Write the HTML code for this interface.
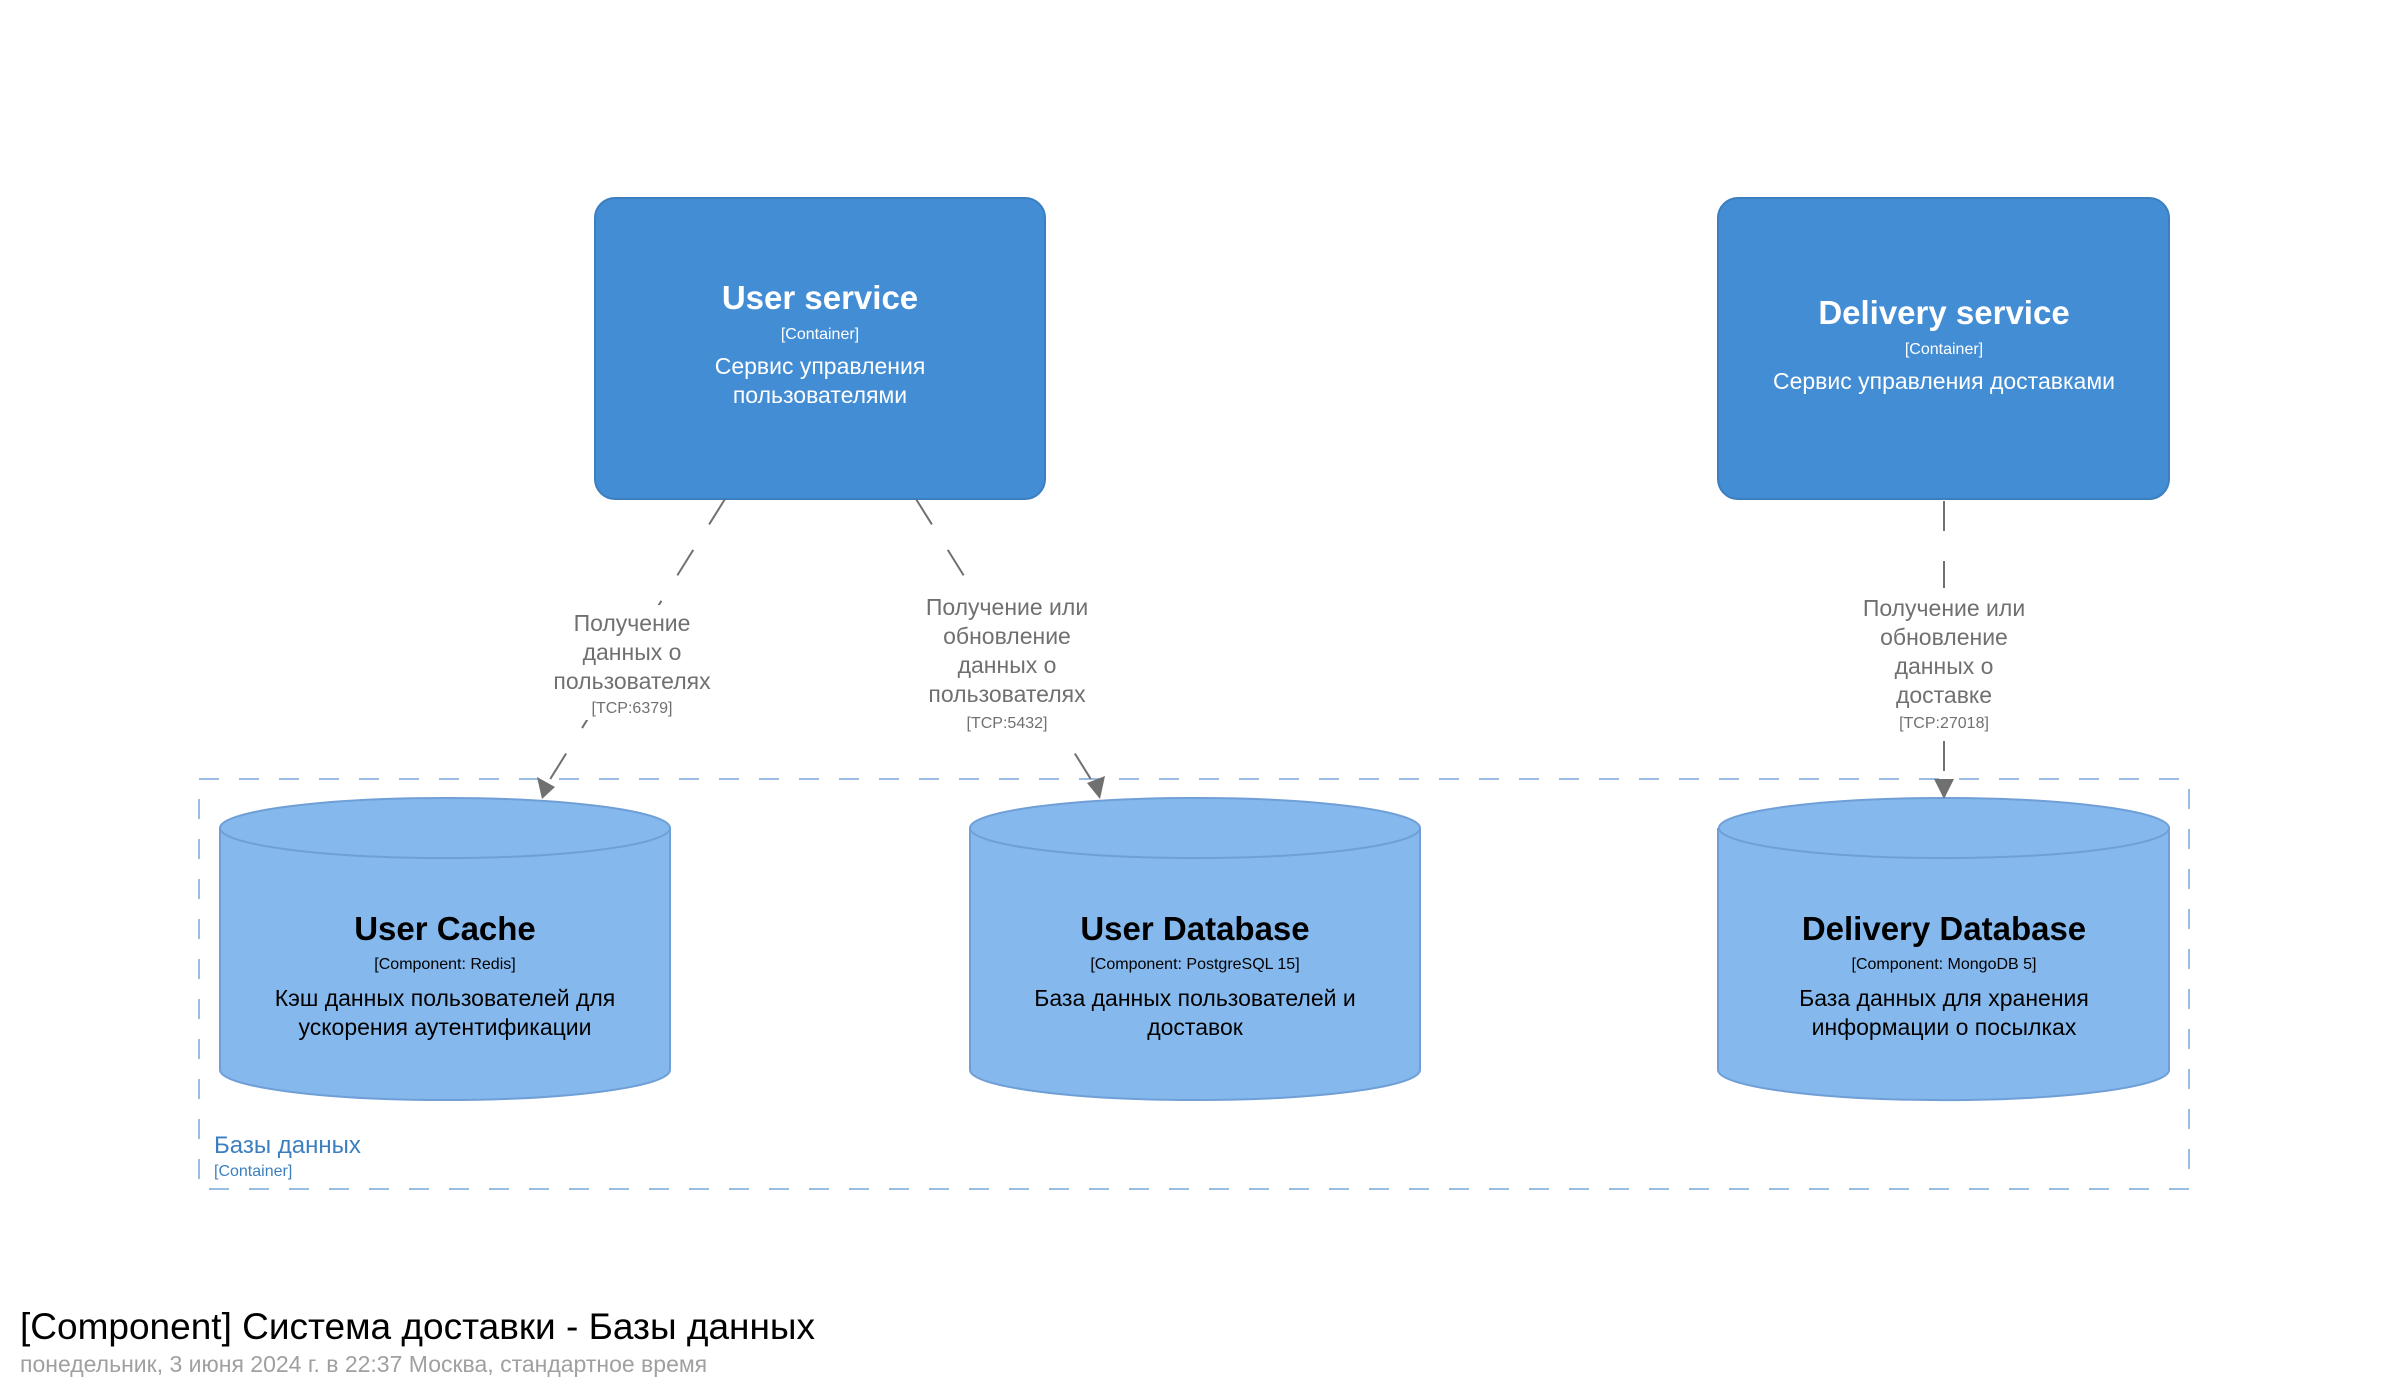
<!DOCTYPE html>
<html><head><meta charset="utf-8"><style>
html,body{margin:0;padding:0;background:#fff;}
svg{display:block;font-family:"Liberation Sans","DejaVu Sans",sans-serif;}
</style></head><body>
<svg width="2390" height="1391" viewBox="0 0 2390 1391" xmlns="http://www.w3.org/2000/svg">
<rect x="199" y="779" width="1990" height="410" fill="none" stroke="#9bbde3" stroke-width="2" stroke-dasharray="20,20"/>
<text x="214" y="1153" font-size="24" fill="#3c7fc0">Базы данных</text>
<text x="214" y="1176" font-size="16" fill="#3c7fc0">[Container]</text>

<rect x="595" y="198" width="450" height="301" rx="20" fill="#438dd5" stroke="#3c7fc0" stroke-width="2"/>
<g fill="#fff" text-anchor="middle">
<text x="820" y="309" font-size="33" font-weight="bold">User service</text>
<text x="820" y="339" font-size="16">[Container]</text>
<text x="820" y="374" font-size="23">Сервис управления</text>
<text x="820" y="403" font-size="23">пользователями</text>
</g>
<rect x="1718" y="198" width="451" height="301" rx="20" fill="#438dd5" stroke="#3c7fc0" stroke-width="2"/>
<g fill="#fff" text-anchor="middle">
<text x="1944" y="324" font-size="33" font-weight="bold">Delivery service</text>
<text x="1944" y="354" font-size="16">[Container]</text>
<text x="1944" y="389" font-size="23">Сервис управления доставками</text>
</g>

<g fill="#85b9ee" stroke="#6f9fd6" stroke-width="2">
<path d="M220,828 L220,1070 A225,30 0 0 0 670,1070 L670,828"/>
<ellipse cx="445" cy="828" rx="225" ry="30"/>
<path d="M970,828 L970,1070 A225,30 0 0 0 1420,1070 L1420,828"/>
<ellipse cx="1195" cy="828" rx="225" ry="30"/>
<path d="M1718,828 L1718,1070 A225,30 0 0 0 2169,1070 L2169,828"/>
<ellipse cx="1944" cy="828" rx="225" ry="30"/>
</g>
<g fill="#000" text-anchor="middle">
<text x="445" y="940" font-size="33" font-weight="bold">User Cache</text>
<text x="445" y="969" font-size="16">[Component: Redis]</text>
<text x="445" y="1006" font-size="23">Кэш данных пользователей для</text>
<text x="445" y="1035" font-size="23">ускорения аутентификации</text>
<text x="1195" y="940" font-size="33" font-weight="bold">User Database</text>
<text x="1195" y="969" font-size="16">[Component: PostgreSQL 15]</text>
<text x="1195" y="1006" font-size="23">База данных пользователей и</text>
<text x="1195" y="1035" font-size="23">доставок</text>
<text x="1944" y="940" font-size="33" font-weight="bold">Delivery Database</text>
<text x="1944" y="969" font-size="16">[Component: MongoDB 5]</text>
<text x="1944" y="1006" font-size="23">База данных для хранения</text>
<text x="1944" y="1035" font-size="23">информации о посылках</text>
</g>

<g stroke="#707070" stroke-width="2" stroke-dasharray="30,30" fill="none">
<line x1="725" y1="499" x2="549" y2="781"/>
<line x1="916" y1="499" x2="1092" y2="781"/>
<line x1="1944" y1="501" x2="1944" y2="781"/>
</g>
<g fill="#707070">
<polygon points="542,799 537,777 555,787"/>
<polygon points="1100,799 1087,783 1105,776"/>
<polygon points="1944,799 1934,779 1954,779"/>
</g>
<g fill="#fff">
<rect x="540" y="605" width="185" height="115"/>
<rect x="905" y="588" width="205" height="145"/>
<rect x="1838" y="588" width="212" height="145"/>
</g>
<g fill="#707070" text-anchor="middle">
<text x="632" y="631" font-size="23">Получение</text>
<text x="632" y="660" font-size="23">данных о</text>
<text x="632" y="689" font-size="23">пользователях</text>
<text x="632" y="713" font-size="16">[TCP:6379]</text>
<text x="1007" y="615" font-size="23">Получение или</text>
<text x="1007" y="644" font-size="23">обновление</text>
<text x="1007" y="673" font-size="23">данных о</text>
<text x="1007" y="702" font-size="23">пользователях</text>
<text x="1007" y="728" font-size="16">[TCP:5432]</text>
<text x="1944" y="616" font-size="23">Получение или</text>
<text x="1944" y="645" font-size="23">обновление</text>
<text x="1944" y="674" font-size="23">данных о</text>
<text x="1944" y="703" font-size="23">доставке</text>
<text x="1944" y="728" font-size="16">[TCP:27018]</text>
</g>

<text x="20" y="1339" font-size="37" fill="#000">[Component] Система доставки - Базы данных</text>
<text x="20" y="1372" font-size="23" fill="#a0a0a0">понедельник, 3 июня 2024 г. в 22:37 Москва, стандартное время</text>
</svg>
</body></html>
